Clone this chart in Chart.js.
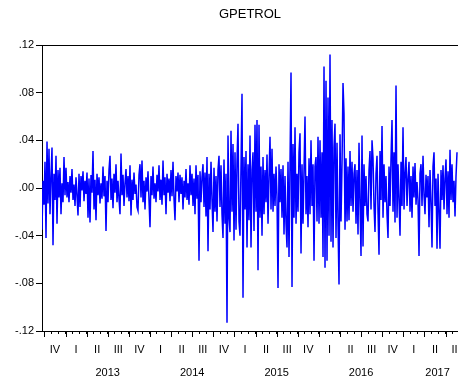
<!DOCTYPE html>
<html>
<head>
<meta charset="utf-8">
<script src="https://cdn.jsdelivr.net/npm/chart.js@4.4.1/dist/chart.umd.min.js"></script>
<style>
  html, body { margin: 0; padding: 0; background: #fff; }
</style>
</head>
<body>
<canvas id="chart" width="458" height="383"></canvas>
<script>
// GPETROL daily returns (one value per pixel column).
const TITLE = "GPETROL";

const r2012 = [-.035, .006, -.014, .022, -.042, .039, -.013, .033, -.022, .010, .034, -.048,
  .012, -.010, .027, -.030, .015, -.008, .017, -.022, .004, -.012, .026, -.006];

const r2013 = [.017, -.008, .005, -.012, .010, -.004, .016, -.010, .003, -.015, .009, -.006,
  -.023, .012, -.016, .010, -.002, .014, -.011, .006, -.005, .013, -.025, .008,
  -.029, .011, -.004, .031, -.018, .007, -.027, .012, -.006, .009, -.013, .004,
  -.009, .018, -.007, .010, -.036, .006, -.012, .015, .027, -.010, .008, -.017,
  .012, -.004, .020, -.012, .006, -.009, -.022, .029, -.006, .011, -.015, .004,
  .016, -.008, .010, -.011, .019, -.023, .007, -.010, .013, -.005, .003, -.016,
  -.019, .011, .020, -.008, .023, -.012, .006, -.018, .009, -.003, .014, -.010];

const r2014 = [-.033, .010, -.006, .018, -.009, .004, -.012, .011, -.003, .019, -.010, .007,
  -.014, .023, -.006, .009, -.022, .012, -.004, .008, -.011, .015, -.007, .022,
  -.009, -.027, .010, -.003, .013, -.012, .011, -.005, .009, -.018, .006, -.008,
  .016, -.010, .004, -.014, .019, -.006, .012, -.015, .008, -.022, .019, -.009,
  .011, -.061, .014, -.012, .009, .020, -.016, .013, -.024, .026, -.053, .012,
  -.018, .022, -.010, -.037, .017, -.020, .010, -.028, .015, .027, -.016, .019,
  -.022, -.042, .024, -.030, .012, -.113, .044, -.025, -.037, .048, -.020, .037,
  -.044];

const r2015 = [.030, -.035, .022, .054, -.028, -.040, .018, .079, -.092, .026, -.018, .031,
  -.050, .020, -.027, .044, -.050, .015, .030, -.036, .053, -.020, .057, -.069,
  .053, -.025, .018, -.040, .026, -.022, .015, -.012, .028, -.030, .010, .043,
  -.018, .033, -.020, .012, -.015, .018, -.008, -.084, .020, -.012, .016, -.025,
  .019, -.039, .010, -.030, -.050, .022, -.058, .020, .097, -.083, .037, -.025,
  .051, -.030, .012, -.020, .030, .046, -.055, .020, -.030, .015, .060, -.022,
  .010, -.033, .025, -.022, .040, -.015, .020, -.061, .018, .026, -.028, .043];

const r2016 = [-.030, .040, -.025, .030, -.058, .102, -.067, .090, -.061, .076, -.040, .112,
  -.045, .057, -.050, .035, .054, -.042, .038, -.030, -.081, .045, -.028, .020,
  .088, .062, -.035, .025, -.028, .018, -.027, .031, -.015, .022, -.020, .012,
  .020, -.030, .015, -.039, .038, -.012, -.057, .044, -.049, .020, -.015, .010,
  -.022, -.028, .015, .031, -.018, .040, .025, -.015, -.037, .012, .027, -.020,
  -.056, .031, -.010, .052, -.025, .020, -.012, .010, -.022, -.042, .018, -.015,
  .025, .057, -.020, .030, -.029, .086, -.025, .020, -.010, -.040, .022, -.015,
  .051];

const r2017 = [-.018, .012, .026, -.015, .008, .022, -.020, .010, -.025, .018, -.008, .021,
  -.014, .005, -.010, -.057, .012, .020, -.015, .027, -.006, -.022, .011, -.008,
  .010, -.033, .015, -.012, -.050, .018, .030, -.015, .008, -.051, .012, -.020,
  -.051, .015, -.010, .019, -.018, .008, .024, -.022, .014, -.025, .032, -.010,
  .020, -.012, .006, -.024, .010, .030];

const yTicks = [-.12, -.08, -.04, 0, .04, .08, .12];
const yTickLabels = ["-.12", "-.08", "-.04", ".00", ".04", ".08", ".12"];
const quarterNames = ["I", "II", "III", "IV"];
const yearNames = ["2013", "2014", "2015", "2016", "2017"];

// x axis is in months counted from 1 Oct 2012
const X_MIN = -0.34, X_MAX = 58.77, DATA_END = 58.63;

const returns = [].concat(r2012, r2013, r2014, r2015, r2016, r2017);
const step = (DATA_END - X_MIN) / (returns.length - 1);
const points = returns.map((v, i) => ({ x: X_MIN + i * step, y: v }));

const months = [];
for (let m = 0; m <= Math.floor(X_MAX); m++) months.push(m);

const FONT = 'Arial, "Liberation Sans", sans-serif';
const INK = "#000000";

const eviewsAxis = {
  id: "eviewsAxis",
  afterDraw(chart) {
    const { ctx, chartArea: a, scales: { x } } = chart;
    ctx.save();
    ctx.strokeStyle = INK;
    ctx.lineWidth = 1;
    // top frame line
    ctx.beginPath();
    ctx.moveTo(a.left, a.top + 0.5);
    ctx.lineTo(a.right, a.top + 0.5);
    ctx.stroke();
    // longer ticks at quarter starts
    ctx.beginPath();
    for (const m of months) {
      if (m % 3 !== 0) continue;
      const px = Math.round(x.getPixelForValue(m)) + 0.5;
      ctx.moveTo(px, a.bottom);
      ctx.lineTo(px, a.bottom + 6);
    }
    ctx.stroke();

    ctx.fillStyle = INK;
    ctx.textAlign = "center";
    ctx.textBaseline = "middle";
    ctx.font = "11px " + FONT;
    // quarter numerals (first one is Q4 2012)
    for (let q = 0; 3 * q + 1.5 < X_MAX + 1; q++) {
      ctx.fillText(quarterNames[(q + 3) % 4], x.getPixelForValue(3 * q + 1.5), 350);
    }
    // years
    yearNames.forEach((name, k) => {
      const mid = Math.min(3 + 12 * k + 6, X_MAX - 2.9);
      ctx.fillText(name, x.getPixelForValue(mid), 373);
    });
    // title
    ctx.font = "13px " + FONT;
    ctx.fillText(TITLE, (a.left + a.right) / 2, 14);
    ctx.restore();
  },
};

new Chart(document.getElementById("chart"), {
  type: "line",
  data: {
    datasets: [{
      data: points,
      borderColor: "#0000ff",
      borderWidth: 1.5,
      pointRadius: 0,
      tension: 0,
      fill: false,
    }],
  },
  options: {
    responsive: false,
    animation: false,
    devicePixelRatio: 1,
    layout: { padding: { top: 45, left: 0, right: 0, bottom: 0 } },
    plugins: { legend: { display: false }, tooltip: { enabled: false }, title: { display: false } },
    scales: {
      x: {
        type: "linear",
        min: X_MIN,
        max: X_MAX,
        afterBuildTicks: (s) => { s.ticks = months.map((m) => ({ value: m })); },
        afterFit: (s) => { s.height = 52; },
        grid: { drawOnChartArea: false, tickLength: 3, color: INK },
        border: { color: INK, width: 1 },
        ticks: { display: false },
      },
      y: {
        min: -0.12,
        max: 0.12,
        afterBuildTicks: (s) => { s.ticks = yTicks.map((v) => ({ value: v })); },
        afterFit: (s) => { s.width = 42; },
        grid: { drawOnChartArea: false, tickLength: 6, color: INK },
        border: { color: INK, width: 1 },
        ticks: {
          autoSkip: false,
          padding: 2,
          color: INK,
          font: { family: FONT, size: 11 },
          callback: (v, i) => yTickLabels[i],
        },
      },
    },
  },
  plugins: [eviewsAxis],
});
</script>
</body>
</html>
